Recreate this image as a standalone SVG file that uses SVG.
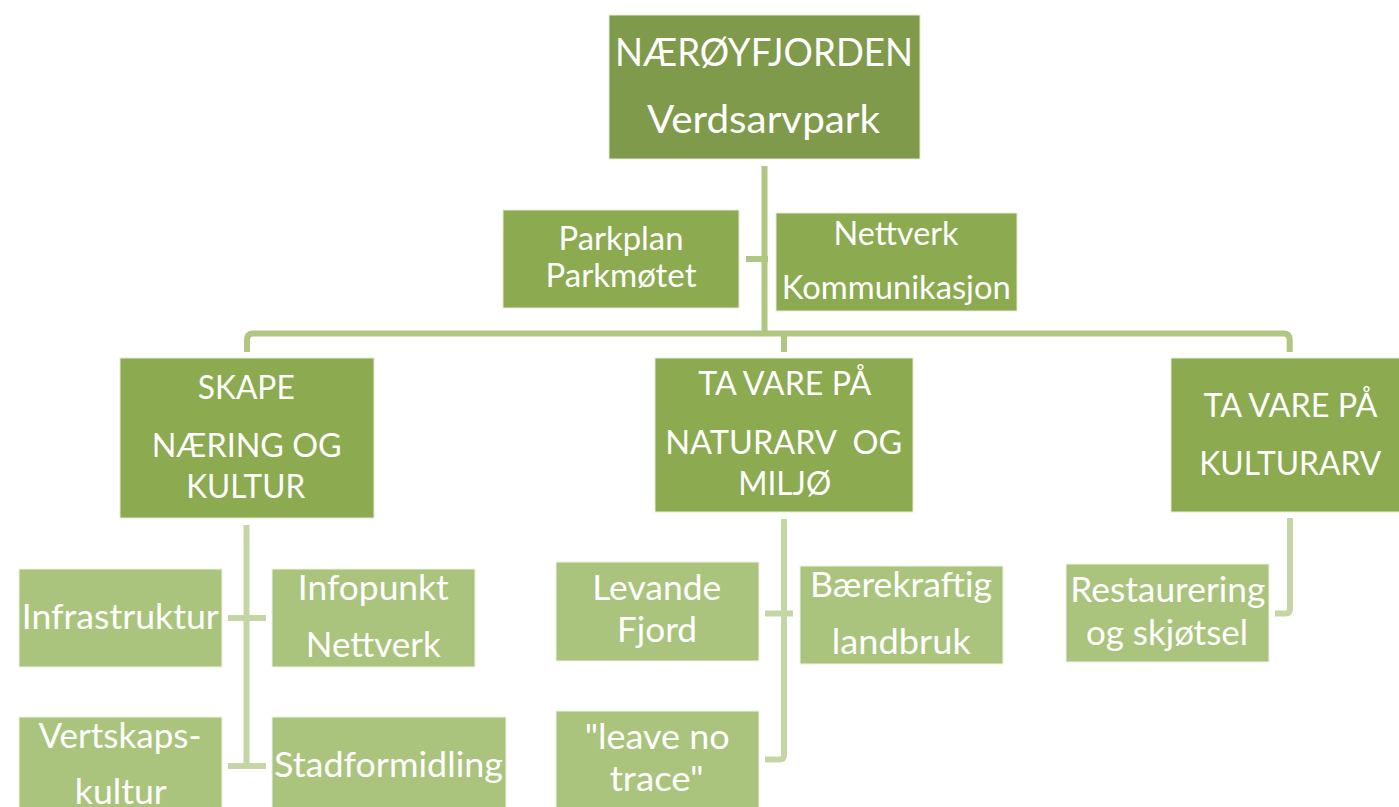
<svg xmlns="http://www.w3.org/2000/svg" width="1399" height="807" viewBox="0 0 1399 807">
<style>
.b0{fill:#7f9a4a;stroke:#e4ebd6;stroke-width:1}
.b1{fill:#8caa50;stroke:#e4ebd6;stroke-width:1}
.b2{fill:#abc47d;stroke:#eef3e4;stroke-width:1}
text{font-family:Lato,"Open Sans","Liberation Sans",sans-serif;fill:#ffffff;text-anchor:middle}
.t0{font-size:39px}
.t1{font-size:32px}
.t2{font-size:35px}
.c1{fill:none;stroke:#afc781;stroke-width:6}
.c2{fill:none;stroke:#c4d5a6;stroke-width:6}
</style>
<g id="connectors">
<path class="c1" d="M764.5,166 V336"/>
<path class="c1" d="M746,259 H768"/>
<path class="c1" d="M247,352 V340 Q247,333.5 253,333.5 H1283.5 Q1289.7,333.5 1289.7,340 V352"/>
<path class="c1" d="M784,336 V352"/>
<path class="c2" d="M246.5,525 V769"/>
<path class="c2" d="M228,618 H266"/>
<path class="c2" d="M228,766 H266"/>
<path class="c2" d="M784,519 V755 Q784,759.5 779.5,759.5 H765"/>
<path class="c2" d="M765,613.5 H793"/>
<path class="c2" d="M1290,518 V609 Q1290,613.5 1285.5,613.5 H1275"/>
</g>
<g id="n-top"><rect class="b0" x="609" y="15" width="311" height="144"/>
<text class="t0" x="764" y="66" textLength="298" lengthAdjust="spacingAndGlyphs">NÆRØYFJORDEN</text>
<text class="t0" x="763.5" y="133" textLength="233" lengthAdjust="spacingAndGlyphs">Verdsarvpark</text></g>
<g id="n-parkplan"><rect class="b1" x="503" y="210" width="236" height="98"/>
<text class="t1" x="621" y="250" textLength="125" lengthAdjust="spacingAndGlyphs">Parkplan</text>
<text class="t1" x="621" y="287" textLength="151" lengthAdjust="spacingAndGlyphs">Parkmøtet</text></g>
<g id="n-nettverk"><rect class="b1" x="776" y="213" width="241" height="98"/>
<text class="t1" x="896" y="245" textLength="125" lengthAdjust="spacingAndGlyphs">Nettverk</text>
<text class="t1" x="896.3" y="299" textLength="229" lengthAdjust="spacingAndGlyphs">Kommunikasjon</text></g>
<g id="n-skape"><rect class="b1" x="120" y="358" width="254" height="160"/>
<text class="t1" x="246.2" y="399" textLength="97" lengthAdjust="spacingAndGlyphs">SKAPE</text>
<text class="t1" x="246.7" y="456.7" textLength="190" lengthAdjust="spacingAndGlyphs">NÆRING OG</text>
<text class="t1" x="245.7" y="498.3" textLength="119" lengthAdjust="spacingAndGlyphs">KULTUR</text></g>
<g id="n-naturarv"><rect class="b1" x="655" y="358" width="258" height="154"/>
<text class="t1" x="784.7" y="395" textLength="173" lengthAdjust="spacingAndGlyphs">TA VARE PÅ</text>
<text class="t1" x="783.8" y="454" textLength="237" lengthAdjust="spacingAndGlyphs" xml:space="preserve" style="white-space:pre">NATURARV  OG</text>
<text class="t1" x="784.7" y="495" textLength="93" lengthAdjust="spacingAndGlyphs">MILJØ</text></g>
<g id="n-kulturarv"><rect class="b1" x="1171" y="358" width="240" height="154"/>
<text class="t1" x="1290.5" y="417.3" textLength="174" lengthAdjust="spacingAndGlyphs">TA VARE PÅ</text>
<text class="t1" x="1290.3" y="475" textLength="182" lengthAdjust="spacingAndGlyphs">KULTURARV</text></g>
<g id="n-infrastruktur"><rect class="b2" x="19" y="569" width="203" height="98"/>
<text class="t2" x="120.3" y="629" textLength="197" lengthAdjust="spacingAndGlyphs">Infrastruktur</text></g>
<g id="n-infopunkt"><rect class="b2" x="272" y="569" width="203" height="98"/>
<text class="t2" x="373.3" y="600" textLength="151" lengthAdjust="spacingAndGlyphs">Infopunkt</text>
<text class="t2" x="373.3" y="657.3" textLength="135" lengthAdjust="spacingAndGlyphs">Nettverk</text></g>
<g id="n-vertskap"><rect class="b2" x="19" y="717" width="203" height="100"/>
<text class="t2" x="120" y="748.3" textLength="163" lengthAdjust="spacingAndGlyphs">Vertskaps-</text>
<text class="t2" x="120.8" y="804" textLength="92" lengthAdjust="spacingAndGlyphs">kultur</text></g>
<g id="n-stadformidling"><rect class="b2" x="272" y="717" width="234" height="100"/>
<text class="t2" x="388.5" y="777" textLength="229" lengthAdjust="spacingAndGlyphs">Stadformidling</text></g>
<g id="n-levande"><rect class="b2" x="556" y="562" width="203" height="99"/>
<text class="t2" x="656.7" y="600" textLength="129" lengthAdjust="spacingAndGlyphs">Levande</text>
<text class="t2" x="657" y="641.7" textLength="80" lengthAdjust="spacingAndGlyphs">Fjord</text></g>
<g id="n-baerekraftig"><rect class="b2" x="800" y="566" width="203" height="98"/>
<text class="t2" x="901" y="596.7" textLength="182" lengthAdjust="spacingAndGlyphs">Bærekraftig</text>
<text class="t2" x="901.3" y="654" textLength="139" lengthAdjust="spacingAndGlyphs">landbruk</text></g>
<g id="n-leavenotrace"><rect class="b2" x="556" y="711" width="203" height="106"/>
<text class="t2" x="657.2" y="749.3" textLength="145" lengthAdjust="spacingAndGlyphs">"leave no</text>
<text class="t2" x="656.7" y="790.7" textLength="94" lengthAdjust="spacingAndGlyphs">trace"</text></g>
<g id="n-restaurering"><rect class="b2" x="1066" y="564" width="203" height="98"/>
<text class="t2" x="1167.8" y="601.7" textLength="195" lengthAdjust="spacingAndGlyphs">Restaurering</text>
<text class="t2" x="1167" y="645" textLength="162" lengthAdjust="spacingAndGlyphs">og skjøtsel</text></g>
</svg>
